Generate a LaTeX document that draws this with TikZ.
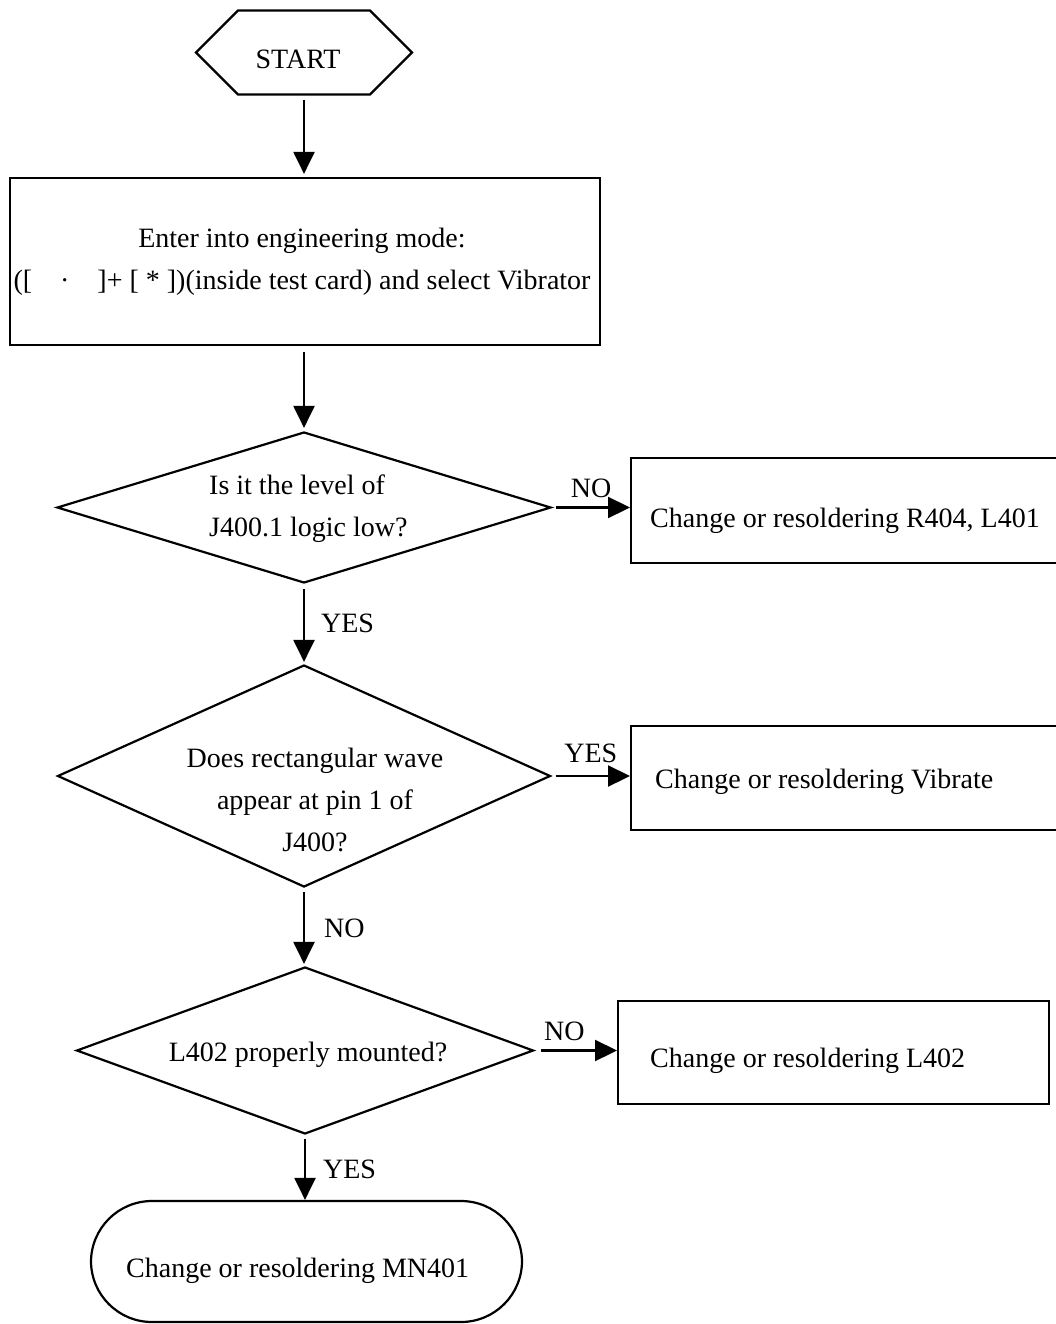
\documentclass[tikz,border=0pt]{standalone}
\usepackage{fontspec}
\setmainfont{Liberation Serif}
\usetikzlibrary{arrows.meta,shapes.geometric,shapes.symbols}
\begin{document}
\begin{tikzpicture}[x=1pt,y=-1pt,
  every node/.style={font=\fontsize{28}{42}\selectfont, inner sep=0pt},
  shp/.style={draw, line width=2.2pt},
  arr/.style={-{Triangle[length=22pt,width=21pt]}, line width=2.2pt}]
\path[use as bounding box, clip] (0,0) rectangle (1056,1324);

% shapes
\node[shp, signal, signal to=west and east, signal pointer angle=90,
      minimum width=216pt, minimum height=84pt] (start) at (304,52.5) {};
\node[anchor=base] (starttxt) at (298,69) {START};

\node[shp, rectangle, minimum width=590pt, minimum height=167pt] (b1) at (305,261.5) {};
\node[align=center] (b1txt) at (302,262) {Enter into engineering mode:\\([\quad·\quad]+ [ * ])(inside test card) and select Vibrator};

\node[shp, diamond, minimum width=494pt, minimum height=151pt] (d1) at (304,507.5) {};
\node[align=left, anchor=west] (d1txt) at (209,509) {Is it the level of\\J400.1 logic low?};

\node[shp, diamond, minimum width=493pt, minimum height=222pt] (d2) at (304,776) {};
\node[align=center] (d2txt) at (315,800) {Does rectangular wave\\appear at pin 1 of\\J400?};

\node[shp, diamond, minimum width=457pt, minimum height=167pt] (d3) at (305,1050.5) {};
\node (d3txt) at (308,1055) {L402 properly mounted?};

\node[shp, rectangle, minimum width=450pt, minimum height=105pt, anchor=north west] (r1) at (630,457) {};
\node[anchor=base west] (r1txt) at (650,527) {Change or resoldering R404, L401};

\node[shp, rectangle, minimum width=450pt, minimum height=104pt, anchor=north west] (r2) at (630,725) {};
\node[anchor=base west] (r2txt) at (655,788) {Change or resoldering Vibrate};

\node[shp, rectangle, minimum width=431pt, minimum height=103pt, anchor=north west] (r3) at (617,1000) {};
\node[anchor=base west] (r3txt) at (650,1067) {Change or resoldering L402};

\node[shp, rectangle, rounded corners=61pt, minimum width=431pt, minimum height=121pt] (endn) at (306.5,1261.5) {};
\node[anchor=base west] (endtxt) at (126,1277) {Change or resoldering MN401};

% connectors
\draw[arr, shorten <=4pt, shorten >=3pt] (start.south) -- (b1.north -| start.south);
\draw[arr, shorten <=6pt, shorten >=3pt] (b1.south -| d1.north) -- (d1.north);
\draw[arr, shorten <=4pt] (d1.east) -- (r1.west |- d1.east)
  node[pos=.5, anchor=base, yshift=10pt] (no1) {NO};
\draw[arr, shorten <=5pt, shorten >=2pt] (d1.south) -- (d2.north)
  node[pos=.5, anchor=base west, xshift=16pt, yshift=-8.5pt] (yes1) {YES};
\draw[arr, shorten <=4pt] (d2.east) -- (r2.west |- d2.east)
  node[pos=.5, anchor=base, yshift=14pt] (yes2) {YES};
\draw[arr, shorten <=4pt, shorten >=2pt] (d2.south) -- (d3.north -| d2.south)
  node[pos=.5, anchor=base west, xshift=19pt, yshift=-10pt] (no2) {NO};
\draw[arr, shorten <=6pt] (d3.east) -- (r3.west |- d3.east)
  node[pos=.36, anchor=base, yshift=10pt] (no3) {NO};
\draw[arr, shorten <=4pt] (d3.south) -- (endn.north -| d3.south)
  node[pos=.5, anchor=base west, xshift=17pt, yshift=-11pt] (yes3) {YES};
\end{tikzpicture}
\end{document}
